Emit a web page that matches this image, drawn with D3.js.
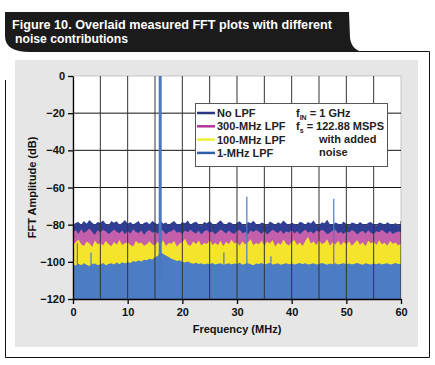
<!DOCTYPE html>
<html>
<head>
<meta charset="utf-8">
<script src="https://cdn.jsdelivr.net/npm/d3@7"></script>
<style>
  body { margin: 0; background: #fff; }
  svg { display: block; }
  text { font-family: "Liberation Sans", Arial, sans-serif; font-weight: bold; }
</style>
</head>
<body>
<svg id="chart" width="435" height="365"></svg>
<script>
// ── data ──────────────────────────────────────────────
const freqStep = 0.5; // MHz between noise samples, 0 … 60

const noLpf = [
  -80.5,-79,-78.5,-80,-78,-79.5,-77.5,-79,-80,-78.5,
  -79,-77.8,-79.5,-80.5,-78,-79,-78.2,-80,-79,-77.5,
  -79.5,-78.5,-80,-79,-78,-80.5,-79,-78.5,-79.8,-78,
  -79,-80,-77.5,-79.5,-78.8,-80.2,-79,-78,-79.6,-80,
  -78.5,-79.2,-77.8,-80,-79,-78.4,-79.8,-80.5,-78.6,-79.2,
  -78,-79.5,-80.2,-78.8,-77.6,-79.4,-80,-78.5,-79.1,-80.3,
  -79,-78.2,-79.8,-80.4,-78.6,-79.3,-77.9,-79.7,-80.1,-78.8,
  -79.4,-80.6,-78.3,-79.1,-80,-78.7,-79.5,-77.7,-79.2,-80.2,
  -78.9,-79.6,-80.3,-78.4,-79,-80.1,-78.6,-79.4,-77.8,-79.9,
  -80.4,-78.7,-79.3,-77.4,-79.8,-80.2,-78.9,-79.5,-80,-78.3,
  -79.6,-80.5,-78.8,-79.2,-80.1,-78.5,-79.7,-80.3,-79,-78.6,
  -79.9,-80.4,-78.9,-79.3,-80.2,-78.7,-79.6,-80,-79.1,-80.5,
  -79.5
];

const lpf300 = [
  -84,-83,-85,-82.5,-84.5,-83.5,-82,-84,-85.5,-83,
  -84.2,-82.8,-83.6,-85,-84,-82.6,-83.8,-84.6,-83.2,-85.2,
  -83.4,-84.8,-82.4,-83.9,-84.5,-83.1,-85.4,-83.7,-82.9,-84.3,
  -83.5,-84.9,-82.7,-83.3,-85.1,-84,-83.6,-82.5,-84.4,-83.8,
  -85,-83.2,-84.1,-82.8,-83.9,-84.7,-83.3,-85.3,-83.6,-82.9,
  -84.2,-83.7,-85.2,-84,-82.6,-83.5,-84.8,-83.1,-84.3,-85,
  -83.4,-82.7,-84.6,-83.9,-85.1,-83.2,-84,-82.9,-83.8,-84.9,
  -83.3,-85.3,-84.1,-82.8,-83.7,-84.5,-83,-85,-83.6,-84.2,
  -82.9,-84.7,-83.4,-85.2,-83.8,-82.6,-84.4,-83.5,-84.9,-83.1,
  -84,-82.7,-83.6,-85.1,-84.3,-83.2,-82.8,-84.6,-83.9,-85,
  -83.5,-84.2,-82.9,-83.7,-85.3,-84,-83.3,-84.8,-83,-84.5,
  -85.1,-83.6,-84.1,-82.8,-83.9,-84.7,-83.4,-85,-84.2,-83.7,
  -84
];

const lpf100 = [
  -91,-89.5,-88,-90.5,-91.5,-89,-90,-92,-88.5,-90.5,
  -89.8,-91.2,-88.6,-90.4,-91.6,-89.3,-90.8,-88.2,-91,-90,
  -89.4,-90.9,-91.8,-88.7,-90.2,-89.6,-91.3,-90.5,-88.9,-90.7,
  -91.1,-89.2,-90.6,-88.4,-91.5,-89.9,-90.3,-88.8,-91.7,-90.1,
  -89.5,-87.6,-90.8,-91.4,-89,-90.6,-88.5,-91.2,-89.8,-90.4,
  -88.3,-91,-89.7,-90.9,-88.7,-91.6,-89.2,-90.5,-88.1,-90,
  -89.6,-91.3,-88.9,-90.7,-89.4,-87.8,-91.1,-89.9,-90.6,-88.6,
  -91.4,-89.1,-90.2,-88.4,-91.7,-89.7,-90.8,-88,-90.3,-91.2,
  -89.3,-88.2,-90.9,-89.6,-91.5,-88.8,-86.5,-90.1,-89,-91,
  -88.5,-90.4,-89.8,-87.9,-91.3,-89.5,-90.7,-88.6,-91.1,-89.2,
  -90.6,-88.9,-91.4,-89.9,-88.3,-90.8,-89.4,-91.6,-88.7,-90.2,
  -89.1,-91,-88.4,-90.5,-89.7,-91.3,-88.8,-90.3,-89.6,-91.2,
  -90
];

const lpf1 = [
  -101.5,-102,-101,-101.8,-100.8,-101.6,-102.2,-101.2,-100.9,-101.7,
  -101.4,-100.6,-101.9,-101.1,-100.7,-101.5,-100.4,-101.3,-100.2,-100.9,
  -100.1,-100.6,-99.6,-100,-99.3,-99.8,-98.9,-99.2,-98.4,-98.8,
  -97.5,-96.8,-94.5,-95.8,-96.6,-97.4,-98.3,-98.9,-99.5,-99.2,
  -100,-100.4,-99.8,-100.6,-101,-100.5,-101.2,-100.7,-101.4,-100.9,
  -101.3,-100.6,-101.5,-101,-100.8,-101.6,-101.1,-100.7,-101.4,-100.9,
  -101.2,-100.5,-101.6,-101,-100.7,-101.3,-101.8,-100.9,-101.2,-100.6,
  -101.4,-101,-100.6,-101.5,-101.1,-100.8,-101.6,-101.2,-100.7,-101.3,
  -100.9,-101.5,-101,-100.6,-101.3,-100.8,-101.4,-101.1,-100.7,-101.5,
  -101.2,-100.6,-101,-101.6,-100.9,-101.3,-100.8,-101.4,-101,-100.7,
  -101.3,-100.9,-101.5,-101,-100.6,-101.2,-101.6,-100.8,-101.1,-101.4,
  -100.9,-101.3,-100.7,-101.5,-101,-100.8,-101.4,-101.1,-100.6,-101.2,
  -101
];

// fundamental and spurs of the 1-MHz LPF trace
const fundamental = { freq: 15.95, level: 0 };
const spurFreqs  = [0.8, 3.3, 27.6, 31.8, 36.2, 47.7];
const spurLevels = [-90, -95, -95, -65, -97, -66];

const seriesNames  = ["No LPF", "300-MHz LPF", "100-MHz LPF", "1-MHz LPF"];
const seriesValues = [noLpf, lpf300, lpf100, lpf1];
const seriesFill   = ["#2f3e92", "#c45fab", "#f4e52c", "#4c7cc3"];
const legendStroke = ["#2a3783", "#b3379a", "#eef03a", "#2f5faa"];

const xTicks = [0, 10, 20, 30, 40, 50, 60];
const yTicks = [0, -20, -40, -60, -80, -100, -120];
const xGrid  = [5, 10, 15, 20, 25, 30, 35, 40, 45, 50, 55];

// ── layout ────────────────────────────────────────────
const svg = d3.select("#chart");
const plot = { left: 73, right: 401, top: 76, bottom: 299 };

const x = d3.scaleLinear().domain([0, 60]).range([plot.left, plot.right]);
const y = d3.scaleLinear().domain([-120, 0]).range([plot.bottom, plot.top]);

/* ─── frame + title tab ─── */
svg.append("path")
  .attr("d", "M5.5,80 L5.5,357.5 L429.5,357.5 L429.5,51.5 L360,51.5")
  .attr("fill", "none").attr("stroke", "#111").attr("stroke-width", 1);

svg.append("path")
  .attr("d", "M5,12 L349,12 L350,38 Q352,51 364,52 L30,52 Q5,52 5,36 Z")
  .attr("fill", "#1b1b1b");

const title = svg.append("g").attr("fill", "#fff").style("font-size", "12px");
title.append("text").attr("x", 12).attr("y", 29)
  .attr("textLength", 320).attr("lengthAdjust", "spacingAndGlyphs")
  .text("Figure 10. Overlaid measured FFT plots with different");
title.append("text").attr("x", 15).attr("y", 43)
  .attr("textLength", 113).attr("lengthAdjust", "spacingAndGlyphs")
  .text("noise contributions");

/* ─── gray panel + plot bg ─── */
svg.append("rect").attr("x", 15).attr("y", 60).attr("width", 403).attr("height", 287)
  .attr("fill", "#e6e6e6");
svg.append("rect").attr("x", plot.left).attr("y", plot.top)
  .attr("width", plot.right - plot.left).attr("height", plot.bottom - plot.top)
  .attr("fill", "#fff").attr("stroke", "#bbb").attr("stroke-width", 0.8);

svg.append("clipPath").attr("id", "clip")
  .append("rect").attr("x", plot.left).attr("y", plot.top - 1)
  .attr("width", plot.right - plot.left).attr("height", plot.bottom - plot.top + 1);

const g = svg.append("g").attr("clip-path", "url(#clip)");

// horizontal grid (under noise)
g.selectAll(".hgrid").data(yTicks.filter(d => d !== 0 && d !== -120)).enter()
  .append("line")
  .attr("x1", plot.left).attr("x2", plot.right)
  .attr("y1", d => y(d)).attr("y2", d => y(d))
  .attr("stroke", "#111").attr("stroke-width", 1);

/* ─── noise floors ─── */
const area = d3.area()
  .x((d, i) => x(i * freqStep))
  .y0(y(-120))
  .y1(d => y(d));

seriesValues.forEach((vals, i) => {
  g.append("path").datum(vals)
    .attr("d", area)
    .attr("fill", seriesFill[i]);
});

// spurs
g.selectAll(".spur").data(spurFreqs).enter()
  .append("line")
  .attr("x1", d => x(d)).attr("x2", d => x(d))
  .attr("y1", y(-110))
  .attr("y2", (d, i) => y(spurLevels[i]))
  .attr("stroke", seriesFill[3]).attr("stroke-width", 1.2);

// vertical grid (drawn over the noise)
g.selectAll(".vgrid").data(xGrid).enter()
  .append("line")
  .attr("x1", d => x(d)).attr("x2", d => x(d))
  .attr("y1", plot.top).attr("y2", plot.bottom)
  .attr("stroke", "#333").attr("stroke-width", 1);

g.append("line")
  .attr("x1", x(60)).attr("x2", x(60))
  .attr("y1", y(-78)).attr("y2", plot.bottom)
  .attr("stroke", "#333").attr("stroke-width", 1);

// fundamental
g.append("line")
  .attr("x1", x(fundamental.freq)).attr("x2", x(fundamental.freq))
  .attr("y1", y(-110)).attr("y2", y(fundamental.level))
  .attr("stroke", "#4a78c0").attr("stroke-width", 3);

/* ─── axes ─── */
const xAxis = svg.append("g")
  .attr("transform", `translate(0,${plot.bottom})`)
  .call(d3.axisBottom(x).tickValues(xTicks).tickSize(5).tickSizeOuter(0).tickPadding(4));
const yAxis = svg.append("g")
  .attr("transform", `translate(${plot.left},0)`)
  .call(d3.axisLeft(y).tickValues(yTicks).tickSize(5).tickSizeOuter(0).tickPadding(3)
    .tickFormat(d => d < 0 ? "\u2212" + Math.abs(d) : d));

[xAxis, yAxis].forEach(ax => {
  ax.select(".domain").attr("stroke", "#000").attr("stroke-width", 1.3);
  ax.selectAll(".tick line").attr("stroke", "#000").attr("stroke-width", 1.3);
  ax.selectAll("text").attr("fill", "#111")
    .style("font-size", "11px").style("font-family", "Liberation Sans, Arial, sans-serif")
    .style("font-weight", "bold");
});

svg.append("text")
  .attr("x", 237).attr("y", 333).attr("text-anchor", "middle")
  .style("font-size", "11px").attr("fill", "#111")
  .text("Frequency (MHz)");

svg.append("text")
  .attr("transform", `translate(36,${(plot.top + plot.bottom) / 2}) rotate(-90)`)
  .attr("text-anchor", "middle")
  .style("font-size", "11px").attr("fill", "#111")
  .text("FFT Amplitude (dB)");

/* ─── legend ─── */
const legend = svg.append("g");
legend.append("rect").attr("x", 195.5).attr("y", 103.5).attr("width", 192).attr("height", 63)
  .attr("fill", "#fff").attr("stroke", "#555").attr("stroke-width", 1);

seriesNames.forEach((name, i) => {
  const ry = 113 + i * 13.3;
  legend.append("line")
    .attr("x1", 197).attr("x2", 215).attr("y1", ry).attr("y2", ry)
    .attr("stroke", legendStroke[i]).attr("stroke-width", 2.5);
  legend.append("text")
    .attr("x", 217).attr("y", ry + 4)
    .style("font-size", "11px").attr("fill", "#222")
    .text(name);
});

const note = legend.append("g").style("font-size", "11px").attr("fill", "#222");
const l1 = note.append("text").attr("x", 296).attr("y", 117);
l1.append("tspan").text("f");
l1.append("tspan").attr("dy", 2.5).style("font-size", "7px").text("IN");
l1.append("tspan").attr("dy", -2.5).text(" = 1 GHz");
const l2 = note.append("text").attr("x", 296).attr("y", 130);
l2.append("tspan").text("f");
l2.append("tspan").attr("dy", 2.5).style("font-size", "7px").text("s");
l2.append("tspan").attr("dy", -2.5).text(" = 122.88 MSPS");
note.append("text").attr("x", 319).attr("y", 143).text("with added");
note.append("text").attr("x", 319).attr("y", 156).text("noise");
</script>
</body>
</html>
